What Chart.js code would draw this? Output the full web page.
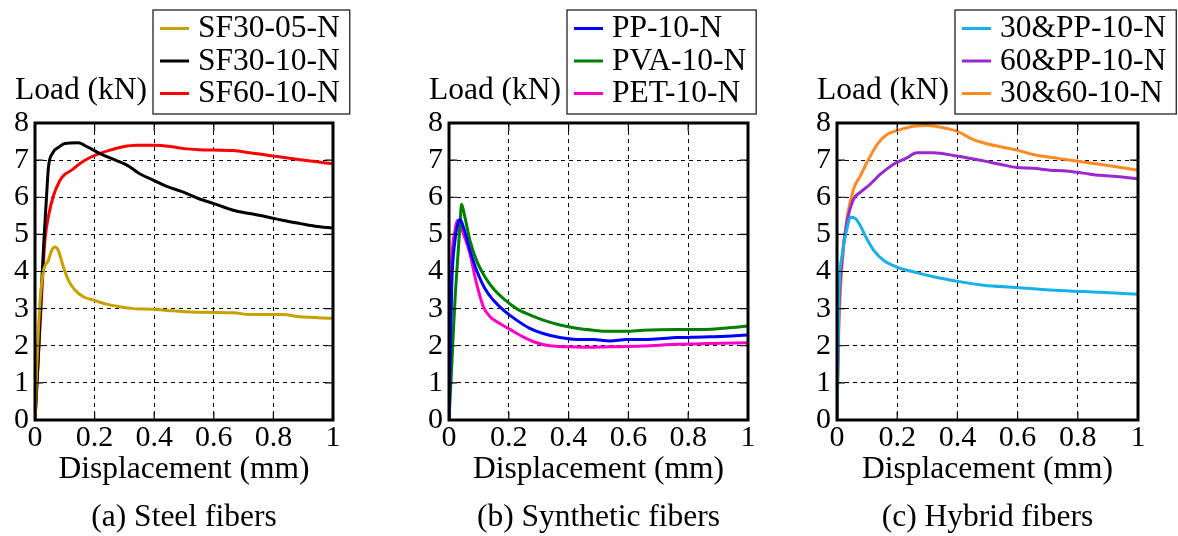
<!DOCTYPE html>
<html>
<head>
<meta charset="utf-8">
<script src="https://cdn.jsdelivr.net/npm/chart.js@4.4.1/dist/chart.umd.min.js"></script>
<style>
  body { margin: 0; }
  .row { display: flex; }
  .panel canvas { display: block; }
  .cap { height: 41px; line-height: 41px; text-align: center; white-space: nowrap;
         font-family: "Liberation Serif", serif; font-size: 31.5px; color: #000; }
</style>
</head>
<body>
<div class="row">
  <div class="panel" style="width:392px">
    <canvas id="c0" width="392" height="495"></canvas>
    <div class="cap" style="margin-left:35px;width:298px">(a) Steel fibers</div>
  </div>
  <div class="panel" style="width:392px">
    <canvas id="c1" width="392" height="495"></canvas>
    <div class="cap" style="margin-left:57px;width:299px">(b) Synthetic fibers</div>
  </div>
  <div class="panel" style="width:394px">
    <canvas id="c2" width="394" height="495"></canvas>
    <div class="cap" style="margin-left:53px;width:301px">(c) Hybrid fibers</div>
  </div>
</div>
<script>
// Axis ticks
const xTicks = [0, 0.2, 0.4, 0.6, 0.8, 1];
const yTicks = [0, 1, 2, 3, 4, 5, 6, 7, 8];

// (a) Steel fibers  [displacement mm, load kN]
const sf30_05 = [[0,0],[0.006,1.43],[0.017,3.2],[0.028,4.0],[0.045,4.3],[0.056,4.57],[0.067,4.66],[0.078,4.57],
  [0.095,4.13],[0.112,3.77],[0.134,3.5],[0.162,3.32],[0.196,3.23],[0.24,3.12],[0.285,3.05],[0.33,3.0],
  [0.397,2.98],[0.464,2.94],[0.553,2.9],[0.665,2.89],[0.72,2.84],[0.832,2.84],[0.888,2.78],[1,2.74]];
const sf30_10 = [[0,0],[0.01,1.5],[0.02,3.3],[0.03,4.85],[0.04,6.2],[0.045,6.8],[0.06,7.2],[0.08,7.35],
  [0.1,7.45],[0.145,7.47],[0.175,7.36],[0.22,7.17],[0.27,7.0],[0.31,6.86],[0.35,6.64],[0.4,6.45],
  [0.44,6.3],[0.5,6.13],[0.55,5.96],[0.6,5.83],[0.665,5.65],[0.72,5.56],[0.78,5.47],[0.83,5.38],
  [0.89,5.29],[0.94,5.22],[1,5.17]];
const sf60_10 = [[0,0],[0.01,1.5],[0.02,3.0],[0.028,4.2],[0.034,4.89],[0.045,5.48],[0.061,6.02],[0.084,6.46],
  [0.101,6.62],[0.123,6.73],[0.151,6.91],[0.185,7.07],[0.218,7.18],[0.252,7.27],[0.296,7.36],[0.34,7.4],
  [0.4,7.4],[0.46,7.36],[0.5,7.31],[0.55,7.28],[0.6,7.27],[0.665,7.26],[0.72,7.2],[0.78,7.13],
  [0.83,7.08],[0.89,7.01],[0.94,6.96],[1,6.9]];

// (b) Synthetic fibers
const pp10 = [[0,0],[0.009,3.59],[0.02,4.84],[0.031,5.33],[0.037,5.4],[0.048,5.2],[0.07,4.57],[0.092,4.04],
  [0.12,3.54],[0.148,3.23],[0.182,2.96],[0.226,2.69],[0.27,2.47],[0.315,2.33],[0.371,2.22],[0.427,2.17],
  [0.482,2.17],[0.538,2.13],[0.594,2.17],[0.649,2.17],[0.705,2.19],[0.761,2.22],[0.872,2.24],[1,2.29]];
const pva10 = [[0,0],[0.009,1.43],[0.02,3.23],[0.031,4.57],[0.037,5.3],[0.042,5.81],[0.053,5.47],[0.07,4.84],
  [0.092,4.3],[0.12,3.86],[0.148,3.54],[0.182,3.27],[0.226,3.0],[0.27,2.83],[0.315,2.69],[0.371,2.56],
  [0.427,2.47],[0.482,2.42],[0.538,2.39],[0.594,2.39],[0.649,2.42],[0.761,2.44],[0.85,2.44],[0.928,2.48],[1,2.53]];
const pet10 = [[0,0],[0.009,4.1],[0.02,5.1],[0.029,5.38],[0.048,5.02],[0.07,4.48],[0.092,3.68],[0.115,3.05],
  [0.137,2.78],[0.17,2.6],[0.204,2.44],[0.248,2.24],[0.293,2.08],[0.337,2.0],[0.393,1.97],[0.46,1.96],
  [0.538,1.97],[0.649,1.99],[0.761,2.04],[0.872,2.06],[1,2.08]];

// (c) Hybrid fibers
const h30pp = [[0,0],[0.006,3.28],[0.017,4.44],[0.033,5.15],[0.044,5.46],[0.061,5.43],[0.077,5.24],[0.099,4.88],
  [0.122,4.57],[0.155,4.3],[0.199,4.12],[0.265,3.97],[0.32,3.86],[0.398,3.74],[0.486,3.63],[0.597,3.57],
  [0.707,3.5],[0.818,3.46],[0.906,3.43],[1,3.39]];
const h60pp = [[0,0],[0.006,2.83],[0.017,4.35],[0.033,5.33],[0.055,5.95],[0.077,6.13],[0.11,6.35],[0.144,6.62],
  [0.188,6.89],[0.232,7.06],[0.265,7.2],[0.32,7.2],[0.398,7.11],[0.486,6.98],[0.541,6.89],[0.597,6.8],
  [0.652,6.78],[0.707,6.73],[0.762,6.71],[0.818,6.65],[0.873,6.59],[0.928,6.56],[1,6.5]];
const h3060 = [[0,0],[0.006,2.39],[0.017,4.17],[0.033,5.42],[0.055,6.22],[0.077,6.57],[0.099,6.93],[0.133,7.42],
  [0.166,7.69],[0.21,7.82],[0.254,7.91],[0.298,7.93],[0.354,7.87],[0.398,7.78],[0.453,7.55],[0.508,7.42],
  [0.597,7.27],[0.652,7.15],[0.74,7.04],[0.818,6.95],[0.895,6.86],[1,6.73]];

const FONT = '"Liberation Serif", serif';
Chart.defaults.font.family = FONT;

const panels = [
  { id: 'c0', pad: { left: 0, right: 59 },
    series: [['SF30-05-N', sf30_05, '#c8a000'], ['SF30-10-N', sf30_10, '#000000'], ['SF60-10-N', sf60_10, '#ff0000']] },
  { id: 'c1', pad: { left: 22, right: 36 },
    series: [['PP-10-N', pp10, '#0000ff'], ['PVA-10-N', pva10, '#008000'], ['PET-10-N', pet10, '#ff00c8']] },
  { id: 'c2', pad: { left: 18, right: 40 },
    series: [['30&PP-10-N', h30pp, '#18b0e8'], ['60&PP-10-N', h60pp, '#9a28d0'], ['30&60-10-N', h3060, '#ff8a20']] }
];

// frame, inner ticks, y title and boxed legend
const decor = {
  id: 'decor',
  afterDraw(chart) {
    const { ctx, chartArea: a } = chart;
    const xs = chart.scales.x, ys = chart.scales.y;
    ctx.save();
    ctx.strokeStyle = '#000';
    ctx.lineWidth = 1.2;
    ctx.beginPath();
    xTicks.forEach(v => {
      const p = xs.getPixelForValue(v);
      ctx.moveTo(p, a.bottom); ctx.lineTo(p, a.bottom - 8);
      ctx.moveTo(p, a.top); ctx.lineTo(p, a.top + 8);
    });
    yTicks.forEach(v => {
      const p = ys.getPixelForValue(v);
      ctx.moveTo(a.left, p); ctx.lineTo(a.left + 8, p);
      ctx.moveTo(a.right, p); ctx.lineTo(a.right - 8, p);
    });
    ctx.stroke();
    ctx.lineWidth = 3;
    ctx.strokeRect(a.left, a.top, a.right - a.left, a.bottom - a.top);

    ctx.fillStyle = '#000';
    ctx.font = '31.5px ' + FONT;
    ctx.textAlign = 'left';
    ctx.textBaseline = 'alphabetic';
    ctx.fillText('Load (kN)', a.left - 20, 99);

    // legend
    const sets = chart.data.datasets;
    const tw = Math.max(...sets.map(d => ctx.measureText(d.label).width));
    const bx = a.left + 118, by = 10, bw = 55 + tw, bh = 104;
    ctx.lineWidth = 1.3;
    ctx.strokeStyle = '#222';
    ctx.strokeRect(bx, by, bw, bh);
    sets.forEach((d, i) => {
      const base = 37 + i * 32.5;
      ctx.strokeStyle = d.borderColor;
      ctx.lineWidth = 3;
      ctx.beginPath();
      ctx.moveTo(bx + 7, base - 8.5); ctx.lineTo(bx + 36, base - 8.5);
      ctx.stroke();
      ctx.fillText(d.label, bx + 45, base);
    });
    ctx.restore();
  }
};

panels.forEach(p => {
  new Chart(document.getElementById(p.id), {
    type: 'line',
    data: {
      datasets: p.series.map(([label, pts, color]) => ({
        label,
        data: pts.map(([x, y]) => ({ x, y })),
        borderColor: color,
        backgroundColor: color,
        borderWidth: 3,
        pointRadius: 0,
        cubicInterpolationMode: 'monotone',
        fill: false
      }))
    },
    options: {
      responsive: false,
      animation: false,
      layout: { padding: { left: p.pad.left, right: p.pad.right, top: 123, bottom: 0 } },
      plugins: {
        legend: { display: false },
        tooltip: { enabled: false }
      },
      scales: {
        x: {
          type: 'linear', min: 0, max: 1,
          afterBuildTicks: s => { s.ticks = xTicks.map(v => ({ value: v })); },
          afterFit: s => { s.height = 75; },
          ticks: { color: '#000', padding: 0, autoSkip: false, font: { family: FONT, size: 30 }, callback: v => String(v) },
          grid: { color: '#000', lineWidth: 1, drawTicks: false },
          border: { display: false, dash: [4, 4] },
          title: { display: true, text: 'Displacement (mm)', color: '#000',
                   font: { family: FONT, size: 31.5 }, padding: { top: 0, bottom: 6.1 } }
        },
        y: {
          type: 'linear', min: 0, max: 8,
          afterBuildTicks: s => { s.ticks = yTicks.map(v => ({ value: v })); },
          afterFit: s => { s.width = 35; },
          ticks: { color: '#000', padding: 6, autoSkip: false, font: { family: FONT, size: 30 }, callback: v => String(v) },
          grid: { color: '#000', lineWidth: 1, drawTicks: false },
          border: { display: false, dash: [4, 4] }
        }
      }
    },
    plugins: [decor]
  });
});
</script>
</body>
</html>
